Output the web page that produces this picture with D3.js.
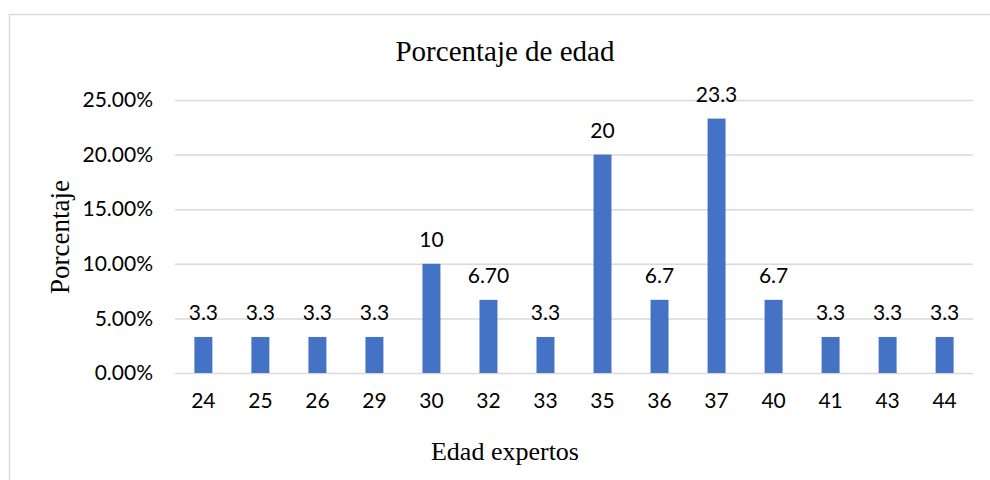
<!DOCTYPE html>
<html>
<head>
<meta charset="utf-8">
<script src="https://cdn.jsdelivr.net/npm/d3@7"></script>
<style>
  body { margin: 0; background: #fff; }
  svg { display: block; }
</style>
</head>
<body>
<svg></svg>
<script>
// datos
let edades = ['24', '25', '26', '29', '30', '32', '33', '35', '36', '37', '40', '41', '43', '44']
let porcentajes = [3.3, 3.3, 3.3, 3.3, 10, 6.7, 3.3, 20, 6.7, 23.3, 6.7, 3.3, 3.3, 3.3]
let etiquetas = ['3.3', '3.3', '3.3', '3.3', '10', '6.70', '3.3', '20', '6.7', '23.3', '6.7', '3.3', '3.3', '3.3']
let ticksY = [0, 5, 10, 15, 20, 25]

let width = 990
let height = 480
let plotLeft = 175, plotRight = 973, plotTop = 100, plotBottom = 373

let svg = d3.select('svg')
    .attr('width', width)
    .attr('height', height)

// borde del area del grafico
svg.append('rect')
   .attr('x', 9.5).attr('y', 14.5)
   .attr('width', 1000).attr('height', 520)
   .attr('fill', 'none')
   .attr('stroke', '#d9d9d9')
   .attr('stroke-width', 1.5)

let xScale = d3.scaleBand()
               .domain(edades)
               .range([plotLeft, plotRight])
               .paddingInner(0.685)
               .paddingOuter(0.34)

let yScale = d3.scaleLinear()
               .domain([0, 25])
               .range([plotBottom, plotTop])

// lineas de cuadricula y etiquetas del eje y
let yAxis = d3.axisLeft(yScale)
              .tickValues(ticksY)
              .tickSize(-(plotRight - plotLeft))
              .tickPadding(22)
              .tickFormat(d => d3.format('.2f')(d) + '%')

let gy = svg.append('g')
   .attr('transform', 'translate(' + plotLeft + ', 0)')
   .call(yAxis)
gy.select('.domain').remove()
gy.selectAll('line').attr('stroke', '#d9d9d9').attr('stroke-width', 1.5)
gy.selectAll('text')
  .attr('font-family', 'Lato, sans-serif')
  .attr('font-size', 21)
  .attr('fill', '#000')

// barras
svg.selectAll('rect.bar')
   .data(porcentajes)
   .enter()
   .append('rect')
   .attr('class', 'bar')
   .attr('x', (d, i) => xScale(edades[i]))
   .attr('width', xScale.bandwidth())
   .attr('y', d => yScale(d))
   .attr('height', d => plotBottom - yScale(d))
   .attr('fill', '#4472c4')

// etiquetas de datos
svg.selectAll('text.lbl')
   .data(porcentajes)
   .enter()
   .append('text')
   .attr('class', 'lbl')
   .attr('x', (d, i) => xScale(edades[i]) + xScale.bandwidth() / 2)
   .attr('y', d => yScale(d) - 17)
   .attr('text-anchor', 'middle')
   .attr('font-family', 'Lato, sans-serif')
   .attr('font-size', 21)
   .text((d, i) => etiquetas[i])

// eje x
let xAxis = d3.axisBottom(xScale).tickSize(0).tickPadding(20)
let gx = svg.append('g')
   .attr('transform', 'translate(0, ' + plotBottom + ')')
   .call(xAxis)
gx.select('.domain').remove()
gx.selectAll('text')
  .attr('font-family', 'Lato, sans-serif')
  .attr('font-size', 21)
  .attr('fill', '#000')

// titulos
svg.append('text')
   .attr('x', 505).attr('y', 61)
   .attr('text-anchor', 'middle')
   .attr('font-family', '"Liberation Serif", serif')
   .attr('font-size', 29)
   .text('Porcentaje de edad')

svg.append('text')
   .attr('x', 505).attr('y', 460)
   .attr('text-anchor', 'middle')
   .attr('font-family', '"Liberation Serif", serif')
   .attr('font-size', 26)
   .text('Edad expertos')

svg.append('text')
   .attr('transform', 'translate(69, 237) rotate(-90)')
   .attr('text-anchor', 'middle')
   .attr('font-family', '"Liberation Serif", serif')
   .attr('font-size', 27)
   .text('Porcentaje')
</script>
</body>
</html>
